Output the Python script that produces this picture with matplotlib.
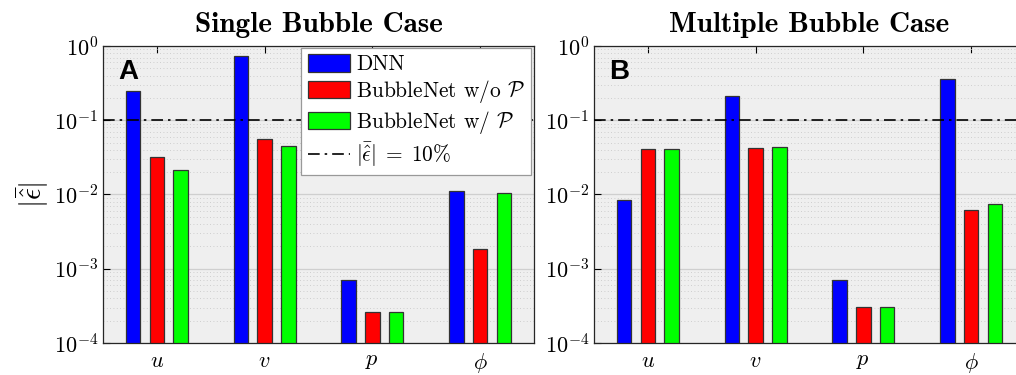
import numpy as np
import matplotlib
matplotlib.use("Agg")
import matplotlib.pyplot as plt
from matplotlib.patches import Patch
from matplotlib.lines import Line2D

plt.rcParams['mathtext.fontset'] = 'cm'
plt.rcParams['font.family'] = 'serif'
plt.rcParams['font.serif'] = ['cmr10', 'DejaVu Serif']
plt.rcParams['axes.formatter.use_mathtext'] = True
plt.rcParams['axes.unicode_minus'] = False

# data
variables = [r'$u$', r'$v$', r'$p$', r'$\phi$']
series_names = ['DNN', r'BubbleNet w/o $\mathcal{P}$', r'BubbleNet w/ $\mathcal{P}$']
series_colors = ['#0000ff', '#ff0000', '#00ff00']

single_dnn = [0.248, 0.733, 7.1e-4, 0.0113]
single_wo = [0.0317, 0.0559, 2.59e-4, 0.00186]
single_w = [0.0211, 0.045, 2.59e-4, 0.0105]

multi_dnn = [0.00835, 0.212, 7.07e-4, 0.356]
multi_wo = [0.041, 0.0427, 3.09e-4, 0.00612]
multi_w = [0.041, 0.0433, 3.05e-4, 0.0075]

threshold = 0.1
threshold_label = r'$|\bar{\hat{\epsilon}}| \;=\; 10\%$'
y_floor = 1e-4
dashdot = (0, (7, 3, 1.5, 3))


def draw_panel(ax, values, title, letter):
    x = np.arange(1, len(variables) + 1)
    offsets = [-0.22, 0.0, 0.22]
    for vals, off, col in zip(values, offsets, series_colors):
        heights = np.array(vals) - y_floor
        ax.bar(x + off, heights, width=0.135, color=col, edgecolor='#333333',
               linewidth=0.9, bottom=y_floor, zorder=3)
    ax.axhline(threshold, color='black', linestyle=dashdot, linewidth=1.2, zorder=4)

    ax.set_yscale('log')
    ax.set_ylim(1e-4, 1)
    ax.set_xlim(0.5, 4.5)
    ax.set_xticks(x)
    ax.set_xticklabels(variables, fontsize=16)
    ax.set_yticks([1e-4, 1e-3, 1e-2, 1e-1, 1])
    ax.tick_params(axis='y', which='major', labelsize=16, direction='in', length=5,
                   right=False, width=0.8)
    ax.tick_params(axis='x', which='major', direction='in', length=5, top=True, pad=6, width=0.8)
    ax.tick_params(axis='y', which='minor', length=0)
    ax.set_facecolor('#efefef')
    ax.grid(True, which='major', axis='y', color='#cfcfcf', linewidth=0.9, zorder=0)
    ax.grid(True, which='minor', axis='y', color='#c4c4c4', linestyle=(0, (1, 3)),
            linewidth=0.6, zorder=0)
    ax.set_axisbelow(True)
    for side in ['top', 'bottom', 'left', 'right']:
        ax.spines[side].set_color('#262626')
        ax.spines[side].set_linewidth(0.9)
    ax.set_title(title, fontname='cmb10', fontsize=21, pad=10)
    ax.text(0.035, 0.912, letter, transform=ax.transAxes, fontsize=20, fontweight='bold',
            family='Liberation Sans', va='center', ha='left', zorder=6)


fig = plt.figure(figsize=(10.16, 3.75), dpi=100)
ax1 = fig.add_axes([103 / 1016, 32 / 375, 431 / 1016, 297 / 375])
ax2 = fig.add_axes([594 / 1016, 32 / 375, 431 / 1016, 297 / 375])

draw_panel(ax1, [single_dnn, single_wo, single_w], 'Single Bubble Case', 'A')
draw_panel(ax2, [multi_dnn, multi_wo, multi_w], 'Multiple Bubble Case', 'B')

ax1.set_ylabel(r'$|\bar{\hat{\epsilon}}|$', fontsize=21, labelpad=2)

handles = [Patch(facecolor=c, edgecolor='#333333', linewidth=0.9) for c in series_colors]
handles.append(Line2D([0], [0], color='black', linestyle=dashdot, linewidth=1.2))
leg = ax1.legend(handles, series_names + [threshold_label], loc='upper right',
                 bbox_to_anchor=(0.993, 0.993), borderaxespad=0, fontsize=15.4,
                 fancybox=False, framealpha=1, edgecolor='#999999',
                 handlelength=1.95, handleheight=0.85, handletextpad=0.3,
                 labelspacing=0.18, borderpad=0.3)
leg.set_zorder(10)
leg.get_frame().set_linewidth(0.9)

fig.savefig('out.png', dpi=100)
